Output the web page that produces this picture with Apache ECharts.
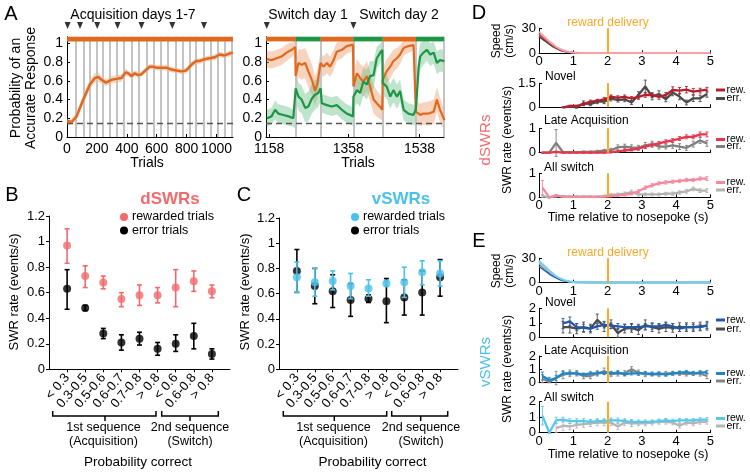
<!DOCTYPE html>
<html>
<head>
<meta charset="utf-8">
<script src="https://cdn.jsdelivr.net/npm/echarts@6.0.0/dist/echarts.min.js"></script>
<style>
html,body{margin:0;padding:0;background:#fff}
#chart{width:750px;height:473px}
</style>
</head>
<body>
<div id="chart"></div>
<script>
var FONT = "'Liberation Sans', Arial, sans-serif";

// ---- panel A, acquisition
var acqTrials = [0,9,31,64,109,153,187,209,231,260,298,331,364,393,409,431,453,476,498,531,553,576,598,631,664,698,731,764,798,831,864,887,920,953,987,1020,1053,1087,1110];
var acqMean   = [0.17,0.16,0.16,0.22,0.40,0.56,0.63,0.64,0.61,0.58,0.61,0.62,0.63,0.69,0.68,0.65,0.68,0.66,0.67,0.72,0.75,0.75,0.74,0.74,0.74,0.72,0.71,0.70,0.71,0.77,0.81,0.81,0.83,0.84,0.85,0.88,0.87,0.89,0.90];
var acqSem    = [0.03,0.03,0.03,0.04,0.05,0.05,0.05,0.05,0.04,0.04,0.04,0.04,0.04,0.04,0.03,0.03,0.03,0.03,0.03,0.03,0.03,0.03,0.03,0.03,0.03,0.03,0.03,0.03,0.03,0.03,0.03,0.03,0.03,0.03,0.03,0.03,0.03,0.03,0.03];
var acqSessions = [60,109,149,198,242,287,331,382,431,482,531,580,624,676,724,771,818,864,913,958,1009,1053,1102];
var acqDayStarts = [4,87,202,338,498,704,916];
var acqTicks = [0,200,400,600,800,1000];

// ---- panel A, switch days
var swTrialsO = [1152,1164,1177,1190,1202,1215,1224,1225,1232,1240,1249,1257,1266,1274,1280,1288,1295,1304,1312,1320,1329,1342,1354,1370,1371,1380,1388,1396,1405,1413,1422,1430,1439,1444,1445,1455,1464,1472,1481,1489,1498,1510,1523,1528,1529,1540,1548,1561,1574,1582,1590,1601];
var swOrange  = [0.83,0.82,0.84,0.86,0.90,0.93,0.96,0.65,0.79,0.77,0.79,0.70,0.61,0.49,0.57,0.79,0.75,0.79,0.75,0.81,0.91,0.93,0.97,0.985,0.54,0.68,0.63,0.59,0.65,0.54,0.40,0.36,0.32,0.29,0.61,0.70,0.75,0.81,0.84,0.88,0.95,0.97,0.98,0.985,0.27,0.235,0.25,0.25,0.27,0.40,0.29,0.18];
var swOrangeSem = [0.09,0.09,0.09,0.09,0.09,0.08,0.07,0.15,0.15,0.16,0.16,0.17,0.17,0.16,0.15,0.12,0.11,0.11,0.11,0.11,0.10,0.09,0.08,0.07,0.14,0.15,0.15,0.16,0.16,0.16,0.15,0.14,0.13,0.12,0.13,0.13,0.13,0.12,0.11,0.10,0.08,0.07,0.06,0.05,0.12,0.12,0.12,0.13,0.13,0.13,0.13,0.12];
var swTrialsG = [1152,1164,1173,1181,1194,1207,1219,1224,1225,1232,1240,1249,1257,1266,1274,1282,1288,1291,1304,1316,1329,1342,1354,1370,1371,1380,1388,1396,1405,1413,1422,1430,1439,1444,1445,1455,1464,1472,1481,1489,1498,1510,1523,1528,1529,1536,1540,1548,1557,1565,1574,1582,1590,1601];
var swGreen   = [0.20,0.22,0.29,0.25,0.235,0.22,0.20,0.18,0.52,0.43,0.40,0.31,0.325,0.41,0.45,0.47,0.52,0.36,0.34,0.325,0.34,0.29,0.25,0.22,0.43,0.50,0.47,0.59,0.56,0.65,0.66,0.84,0.90,0.93,0.575,0.54,0.43,0.50,0.43,0.49,0.29,0.25,0.235,0.24,0.30,0.75,0.86,0.90,0.93,0.88,0.90,0.79,0.82,0.81];
var swGreenSem = [0.09,0.09,0.10,0.10,0.10,0.10,0.09,0.09,0.14,0.15,0.15,0.15,0.16,0.16,0.16,0.15,0.14,0.10,0.10,0.10,0.10,0.10,0.10,0.10,0.13,0.14,0.15,0.15,0.16,0.16,0.15,0.12,0.10,0.09,0.13,0.13,0.13,0.13,0.13,0.12,0.11,0.11,0.11,0.11,0.14,0.15,0.14,0.13,0.12,0.12,0.12,0.12,0.12,0.12];
var swSessions = [1225,1288,1371,1445,1529,1600];
var swDayStarts = [1152,1371];
var swPhaseStart = [1150,1225,1288,1371,1445,1529];
var swPhaseEnd   = [1225,1288,1371,1445,1529,1600];
var swPhaseRule  = ['o','g','o','g','o','g'];
var swTicks = [1158,1358,1538];
var chanceLevel = 0.15;

// ---- panels B and C
var bins = ['< 0.3','0.3-0.5','0.5-0.6','0.6-0.7','0.7-0.8','> 0.8','< 0.6','0.6-0.8','> 0.8'];
var dRew    = [0.97,0.73,0.68,0.55,0.58,0.58,0.64,0.69,0.61];
var dRewLo  = [0.83,0.64,0.63,0.49,0.50,0.52,0.49,0.61,0.56];
var dRewHi  = [1.10,0.81,0.73,0.60,0.66,0.64,0.78,0.77,0.66];
var dErr    = [0.63,0.48,0.28,0.21,0.24,0.16,0.20,0.26,0.12];
var dErrLo  = [0.47,0.46,0.24,0.15,0.19,0.11,0.14,0.16,0.08];
var dErrHi  = [0.78,0.50,0.32,0.27,0.29,0.21,0.27,0.36,0.16];
var vRew    = [0.73,0.69,0.70,0.66,0.64,0.68,0.69,0.77,0.76];
var vRewLo  = [0.61,0.58,0.63,0.56,0.58,0.66,0.57,0.67,0.66];
var vRewHi  = [0.85,0.80,0.78,0.76,0.71,0.70,0.81,0.86,0.86];
var vErr    = [0.78,0.66,0.62,0.55,0.56,0.54,0.57,0.61,0.73];
var vErrLo  = [0.61,0.52,0.49,0.42,0.53,0.37,0.43,0.43,0.58];
var vErrHi  = [0.95,0.80,0.75,0.68,0.59,0.72,0.71,0.78,0.87];

// ---- panels D and E
var tBins = [0.1,0.3,0.5,0.7,0.9,1.1,1.3,1.5,1.7,1.9,2.1,2.3,2.5,2.7,2.9,3.1,3.3,3.5,3.7,3.9,4.1,4.3,4.5,4.7,4.9];
var dNovRew  = [null,null,null,0,0.08,0.08,0.2,0.35,0.4,0.5,0.65,0.6,0.65,0.55,0.65,0.77,0.77,0.65,0.77,1.08,1.04,1.1,0.98,1.04,1.1];
var dNovRewE = [null,null,null,0.02,0.05,0.05,0.08,0.1,0.1,0.12,0.12,0.12,0.12,0.12,0.15,0.15,0.15,0.15,0.15,0.2,0.2,0.2,0.2,0.15,0.15];
var dNovErr  = [null,null,null,0,0.04,0,0.25,0.2,0.35,0.35,0.55,0.45,0.5,0.3,0.77,1.3,0.67,0.83,0.5,0.92,0.67,0.3,0.56,0.56,0.83];
var dNovErrE = [null,null,null,0.02,0.05,0.05,0.15,0.1,0.12,0.12,0.15,0.12,0.15,0.12,0.2,0.4,0.2,0.2,0.15,0.2,0.2,0.15,0.2,0.2,0.2];
var dLateRew  = [0,0,0.03,0,0,0,0,0,0,0,0.02,0.05,0.1,0.12,0.17,0.25,0.32,0.38,0.45,0.5,0.58,0.65,0.65,0.75,0.75];
var dLateRewE = [0.02,0.02,0.03,0.02,0.02,0.02,0.02,0.02,0.02,0.02,0.03,0.04,0.05,0.05,0.06,0.07,0.08,0.08,0.08,0.08,0.08,0.08,0.08,0.1,0.1];
var dLateErr  = [0,0,0.4,0.02,0.02,0.02,0.03,0.03,0.05,0.08,0.1,0.22,0.25,0.22,0.2,0.3,0.35,0.25,0.25,0.3,0.25,0.2,0.35,0.5,0.38];
var dLateErrE = [0.02,0.02,0.55,0.03,0.03,0.03,0.04,0.04,0.05,0.06,0.08,0.1,0.1,0.1,0.1,0.12,0.12,0.1,0.1,0.12,0.12,0.1,0.12,0.12,0.12];
var dAllRew  = [0.4,0,0.08,0.02,0.02,0.02,0.02,0.02,0.02,0.03,0.05,0.08,0.1,0.15,0.25,0.4,0.5,0.58,0.62,0.65,0.68,0.72,0.72,0.78,0.78];
var dAllRewE = [0.3,0.02,0.04,0.02,0.02,0.02,0.02,0.02,0.02,0.02,0.03,0.03,0.04,0.05,0.06,0.07,0.07,0.07,0.07,0.07,0.07,0.07,0.07,0.07,0.08];
var dAllErr  = [0.05,0,0.05,0.05,0.03,0.03,0.03,0.03,0.03,0.05,0.1,0.12,0.15,0.22,0.12,0.12,0.12,0.12,0.15,0.15,0.2,0.25,0.35,0.28,0.28];
var dAllErrE = [0.05,0.02,0.04,0.03,0.03,0.03,0.03,0.03,0.03,0.04,0.05,0.06,0.07,0.08,0.06,0.06,0.06,0.06,0.06,0.07,0.07,0.08,0.08,0.08,0.08];
var eNovRew  = [null,null,null,0.95,1.1,0.7,0.65,0.6,0.75,0.85,0.8,0.75,0.7,0.7,0.7,0.75,0.75,0.75,0.85,0.75,0.6,0.7,0.7,0.7,0.8];
var eNovRewE = [null,null,null,0.35,0.3,0.25,0.25,0.2,0.2,0.2,0.2,0.2,0.2,0.2,0.2,0.2,0.2,0.2,0.2,0.2,0.2,0.2,0.2,0.2,0.2];
var eNovErr  = [null,null,null,0.7,0.7,0.6,0.7,0.6,1.2,0.75,0.9,0.3,0.6,0.65,0.5,0.85,0.7,0.6,0.7,0.65,0.7,0.7,0.7,0.75,0.8];
var eNovErrE = [null,null,null,0.4,0.4,0.35,0.35,0.3,0.4,0.35,0.3,0.3,0.3,0.3,0.3,0.35,0.3,0.3,0.3,0.3,0.3,0.3,0.3,0.3,0.3];
var eLateRew  = [0.5,0.2,0.35,0.7,0.7,0.7,0.6,0.7,0.7,0.75,0.7,0.75,0.65,0.7,0.7,0.7,0.65,0.7,0.6,0.7,0.75,0.8,0.7,0.75,0.8];
var eLateRewE = [0.3,0.2,0.2,0.15,0.12,0.12,0.12,0.12,0.12,0.12,0.12,0.12,0.12,0.12,0.12,0.12,0.12,0.12,0.12,0.12,0.12,0.12,0.12,0.12,0.12];
var eLateErr  = [0.3,0.05,0.35,0.6,0.7,0.7,0.5,0.5,0.7,0.85,0.65,0.7,0.7,1.0,0.75,0.65,0.65,0.6,0.7,0.7,0.7,0.65,0.7,0.7,0.5];
var eLateErrE = [0.3,0.05,0.5,0.3,0.25,0.2,0.2,0.2,0.2,0.25,0.2,0.2,0.2,0.2,0.2,0.2,0.15,0.15,0.15,0.15,0.15,0.15,0.15,0.2,0.2];
var eAllRew  = [1.1,0,0.8,0.85,0.75,0.75,0.75,0.7,0.75,0.75,0.8,0.8,0.75,0.7,0.7,0.7,0.7,0.75,0.8,0.75,0.8,0.8,0.8,0.85,0.85];
var eAllRewE = [0.6,0.05,0.2,0.15,0.15,0.15,0.15,0.15,0.15,0.15,0.15,0.15,0.15,0.15,0.12,0.12,0.12,0.12,0.12,0.12,0.12,0.12,0.12,0.12,0.12];
var eAllErr  = [null,null,0.3,0.45,0.4,0.5,0.55,0.6,0.65,0.65,0.65,0.4,0.65,0.6,0.6,0.6,0.65,0.7,0.7,0.65,0.45,0.65,0.6,0.7,0.7];
var eAllErrE = [null,null,0.3,0.3,0.2,0.2,0.2,0.2,0.2,0.2,0.2,0.2,0.2,0.2,0.15,0.15,0.15,0.15,0.15,0.15,0.15,0.15,0.15,0.15,0.15];

var speedT = [0,0.2,0.4,0.6,0.8,1,1.2,1.5,2,3,4,5];
var dSpeedPink = [26,18,11,5.5,2.5,1,0.5,0.3,0.3,0.3,0.3,0.4];
var dSpeedRed  = [23,16,9.5,4.5,2,0.8,0.4,0.3,0.3,0.3,0.3,0.3];
var dSpeedGray = [21,15,9,4.5,2,0.8,0.4,0.3,0.3,0.3,0.3,0.4];
var dSpeedDark = [20,14,8,4,1.8,0.7,0.3,0.2,0.2,0.2,0.2,0.2];
var eSpeedCyan = [27,19,11.5,5.5,2.5,1,0.5,0.3,0.3,0.3,0.3,0.5];
var eSpeedLight= [25,17,10,5,2.2,0.9,0.4,0.3,0.3,0.3,0.3,0.4];
var eSpeedGray = [23,16,9.5,4.5,2,0.8,0.4,0.3,0.3,0.3,0.3,0.3];
var eSpeedBlue = [20,14,8,4,1.8,0.7,0.3,0.2,0.2,0.2,0.2,0.2];
var rewardTime = 2;

var ORANGE = '#E0691F', ORANGE_BAND = 'rgba(240,160,110,0.45)';
var GREEN = '#1E9646', GREEN_BAND = 'rgba(110,195,140,0.45)';
var DRED = '#F16B6E', VCYAN = '#4CC1E9', REWARD = '#F9A928';

var chart = echarts.init(document.getElementById('chart'));

var grids = [
  {left: 67, top: 36.7, width: 166, height: 100.3},   // 0 A acquisition
  {left: 266, top: 36.7, width: 178, height: 100.3},  // 1 A switch
  {left: 49, top: 216, width: 181, height: 153.3},    // 2 B
  {left: 279, top: 218, width: 179, height: 151.3},   // 3 C
  {left: 539, top: 28.3, width: 171.4, height: 25},   // 4 D speed
  {left: 539, top: 83.3, width: 171.4, height: 24},   // 5 D novel
  {left: 539, top: 128.3, width: 171.4, height: 24.4},// 6 D late
  {left: 539, top: 173.3, width: 171.4, height: 24},  // 7 D all
  {left: 539, top: 258.3, width: 171.4, height: 24.4},// 8 E speed
  {left: 539, top: 308.3, width: 171.4, height: 29},  // 9 E novel
  {left: 539, top: 356, width: 171.4, height: 26.7},  // 10 E late
  {left: 539, top: 401.7, width: 171.4, height: 31}   // 11 E all
];
grids.forEach(function (g) { g.containLabel = false; g.outerBoundsMode = 'none'; });

function axis(gi, min, max, vals, fs, showLabel, inside) {
  return {
    type: 'value', gridIndex: gi, min: min, max: max,
    axisLine: {show: true, onZero: false, lineStyle: {color: '#000', width: 1}},
    axisTick: {show: true, inside: inside, length: 3, customValues: vals, lineStyle: {color: '#000'}},
    axisLabel: {show: showLabel, customValues: vals, fontSize: fs, color: '#000', fontFamily: FONT, margin: 4,
      showMinLabel: true, showMaxLabel: true, hideOverlap: false,
      formatter: function (v) { return String(v); }},
    splitLine: {show: false}
  };
}

var xAxes = [], yAxes = [];
var yA = [0,0.2,0.4,0.6,0.8,1];
xAxes.push(axis(0, 0, 1110, acqTicks, 14, true, true));
yAxes.push(axis(0, 0, 1.07, yA, 14, true, true));
xAxes.push(axis(1, 1150, 1600, swTicks, 14, true, true));
yAxes.push(axis(1, 0, 1.07, yA, 14, true, true));
xAxes[0].axisLabel.margin = 5; xAxes[1].axisLabel.margin = 5;

var binPos = [1,2,3,4,5,6,7,8,9];
var yBC = [0,0.2,0.4,0.6,0.8,1,1.2];
[2, 3].forEach(function (gi) {
  var xa = axis(gi, 0, 10, binPos, 13, true, false);
  xa.axisLabel.rotate = 50;
  xa.axisLabel.margin = 6;
  xa.axisLabel.formatter = function (v) { return bins[Math.round(v) - 1]; };
  xAxes.push(xa);
  yAxes.push(axis(gi, 0, 1.2, yBC, 13, true, false));
});

var tTicks = [0,1,2,3,4,5];
var panelY = [
  [4, 30, [0,30]], [5, 1.5, [0,1.5]], [6, 1, [0,1]], [7, 1, [0,1]],
  [8, 30, [0,30]], [9, 2, [0,1,2]], [10, 2, [0,1,2]], [11, 2, [0,1,2]]
];
panelY.forEach(function (p) {
  var gi = p[0];
  var showX = (gi === 4 || gi === 7 || gi === 8 || gi === 11);
  var xa = axis(gi, 0, 5, tTicks, 13, showX, true);
  xa.axisLabel.margin = 2;
  xAxes.push(xa);
  var ya = axis(gi, 0, p[1], p[2], 13, true, true);
  ya.axisLabel.margin = 3;
  yAxes.push(ya);
});

var series = [];

function band(gi, xs, ys, hw, color) {
  return {
    type: 'custom', xAxisIndex: gi, yAxisIndex: gi, silent: true, z: 2,
    data: [[xs[0], ys[0]]],
    renderItem: function (params, api) {
      var pts = [], i;
      for (i = 0; i < xs.length; i++) pts.push(api.coord([xs[i], ys[i] + hw[i]]));
      for (i = xs.length - 1; i >= 0; i--) pts.push(api.coord([xs[i], ys[i] - hw[i]]));
      return {type: 'polygon', shape: {points: pts}, style: {fill: color}};
    }
  };
}

function pairs(xs, ys) {
  var out = [];
  for (var i = 0; i < xs.length; i++) if (ys[i] != null) out.push([xs[i], ys[i]]);
  return out;
}

function errBars(gi, xs, lo, hi, color, cap, w, z) {
  var rows = [];
  for (var i = 0; i < xs.length; i++) if (lo[i] != null) rows.push([xs[i], lo[i], hi[i]]);
  return {
    type: 'custom', xAxisIndex: gi, yAxisIndex: gi, silent: true, z: z || 3,
    data: rows, encode: {x: 0, y: [1, 2]},
    renderItem: function (params, api) {
      var x = api.value(0);
      var a = api.coord([x, api.value(1)]), b = api.coord([x, api.value(2)]);
      var st = {stroke: color, lineWidth: w};
      return {type: 'group', children: [
        {type: 'line', shape: {x1: a[0], y1: a[1], x2: b[0], y2: b[1]}, style: st},
        {type: 'line', shape: {x1: a[0] - cap, y1: a[1], x2: a[0] + cap, y2: a[1]}, style: st},
        {type: 'line', shape: {x1: b[0] - cap, y1: b[1], x2: b[0] + cap, y2: b[1]}, style: st}
      ]};
    }
  };
}

function phaseBar(gi, starts, ends, rules) {
  var rows = starts.map(function (s, i) { return [s, ends[i], rules[i] === 'o' ? 0 : 1]; });
  return {
    type: 'custom', xAxisIndex: gi, yAxisIndex: gi, silent: true, z: 5,
    data: rows, encode: {x: [0, 1]},
    renderItem: function (params, api) {
      var a = api.coord([api.value(0), 1.07]), b = api.coord([api.value(1), 1.02]);
      return {type: 'rect', shape: {x: a[0], y: a[1], width: b[0] - a[0], height: b[1] - a[1]},
        style: {fill: api.value(2) === 0 ? ORANGE : GREEN}};
    }
  };
}

function guideLines(gi, xs, dash) {
  var d = xs.map(function (x) { return {xAxis: x, lineStyle: {color: '#C4C4C4', width: 2, type: 'solid'}}; });
  d.push({yAxis: dash, lineStyle: {color: '#555', width: 1.3, type: [6, 4]}});
  return {
    type: 'line', xAxisIndex: gi, yAxisIndex: gi, data: [], z: 1, silent: true,
    markLine: {silent: true, z: 3, symbol: 'none', label: {show: false}, animation: false, data: d}
  };
}

function triangles(gi, xs) {
  return {
    type: 'scatter', xAxisIndex: gi, yAxisIndex: gi, clip: false, silent: true, z: 6,
    symbol: 'triangle', symbolRotate: 180, symbolSize: [6, 7],
    itemStyle: {color: '#000'},
    data: xs.map(function (x) { return [x, 1.19]; })
  };
}

function curve(gi, xs, ys, color, w, smooth) {
  return {
    type: 'line', xAxisIndex: gi, yAxisIndex: gi, data: pairs(xs, ys), showSymbol: false,
    smooth: smooth || false, silent: true, z: 4, clip: false,
    lineStyle: {color: color, width: w}, itemStyle: {color: color}
  };
}

// A
series.push(guideLines(0, acqSessions, chanceLevel));
series.push(band(0, acqTrials, acqMean, acqSem, ORANGE_BAND));
series.push(curve(0, acqTrials, acqMean, ORANGE, 2.5));
series.push(phaseBar(0, [0], [1110], ['o']));
series.push(triangles(0, acqDayStarts));

series.push(guideLines(1, swSessions, chanceLevel));
series.push(band(1, swTrialsO, swOrange, swOrangeSem, ORANGE_BAND));
series.push(band(1, swTrialsG, swGreen, swGreenSem, GREEN_BAND));
series.push(curve(1, swTrialsO, swOrange, ORANGE, 2.2));
series.push(curve(1, swTrialsG, swGreen, GREEN, 2.2));
series.push(phaseBar(1, swPhaseStart, swPhaseEnd, swPhaseRule));
series.push(triangles(1, swDayStarts));

// B and C
function dots(gi, ys, color, z) {
  return {
    type: 'scatter', xAxisIndex: gi, yAxisIndex: gi, symbolSize: 8, z: z, silent: true,
    itemStyle: {color: color}, data: pairs(binPos, ys)
  };
}
series.push(errBars(2, binPos, dErrLo, dErrHi, '#000', 2.5, 1.6, 3));
series.push(dots(2, dErr, '#000', 4));
series.push(errBars(2, binPos, dRewLo, dRewHi, DRED, 2.5, 1.6, 5));
series.push(dots(2, dRew, DRED, 6));
series.push(errBars(3, binPos, vErrLo, vErrHi, '#000', 2.5, 1.6, 3));
series.push(dots(3, vErr, '#000', 4));
series.push(errBars(3, binPos, vRewLo, vRewHi, VCYAN, 2.5, 1.6, 5));
series.push(dots(3, vRew, VCYAN, 6));

// D and E
function rewardLine(gi) {
  return {
    type: 'line', xAxisIndex: gi, yAxisIndex: gi, data: [], z: 7, silent: true,
    markLine: {silent: true, z: 7, symbol: 'none', label: {show: false}, animation: false,
      data: [{xAxis: rewardTime}], lineStyle: {color: REWARD, width: 2, type: 'solid'}}
  };
}
function ratePanel(gi, rew, rewE, err, errE, rewColor, errColor) {
  var lo1 = rew.map(function (v, i) { return v == null ? null : v - rewE[i]; });
  var hi1 = rew.map(function (v, i) { return v == null ? null : v + rewE[i]; });
  var lo2 = err.map(function (v, i) { return v == null ? null : v - errE[i]; });
  var hi2 = err.map(function (v, i) { return v == null ? null : v + errE[i]; });
  series.push(errBars(gi, tBins, lo2, hi2, errColor, 1.5, 0.9, 3));
  series.push(errBars(gi, tBins, lo1, hi1, rewColor, 1.5, 0.9, 3));
  series.push(curve(gi, tBins, err, errColor, 2.3));
  series.push(curve(gi, tBins, rew, rewColor, 2.3));
  series.push(rewardLine(gi));
}

series.push(curve(4, speedT, dSpeedGray, '#9A9A9A', 1.5, true));
series.push(curve(4, speedT, dSpeedDark, '#444', 1.5, true));
series.push(curve(4, speedT, dSpeedRed, '#C83A44', 1.5, true));
series.push(curve(4, speedT, dSpeedPink, '#F4A3AA', 2, true));
series.push(rewardLine(4));
ratePanel(5, dNovRew, dNovRewE, dNovErr, dNovErrE, '#B3202D', '#4A4A4A');
ratePanel(6, dLateRew, dLateRewE, dLateErr, dLateErrE, '#E5364C', '#7E7E7E');
ratePanel(7, dAllRew, dAllRewE, dAllErr, dAllErrE, '#F5889C', '#B2B2B2');

series.push(curve(8, speedT, eSpeedGray, '#8A8A8A', 1.5, true));
series.push(curve(8, speedT, eSpeedLight, '#BBBBBB', 1.5, true));
series.push(curve(8, speedT, eSpeedBlue, '#2A5CAA', 1.5, true));
series.push(curve(8, speedT, eSpeedCyan, '#74D2EF', 2, true));
series.push(rewardLine(8));
ratePanel(9, eNovRew, eNovRewE, eNovErr, eNovErrE, '#2557A7', '#4A4A4A');
ratePanel(10, eLateRew, eLateRewE, eLateErr, eLateErrE, '#1C86C6', '#858585');
ratePanel(11, eAllRew, eAllRewE, eAllErr, eAllErrE, '#56C8EC', '#B5B5B5');

// text and annotation
var g = [];
function txt(x, y, s, fs, opt) {
  opt = opt || {};
  g.push({
    type: 'text', x: x, y: y, rotation: opt.rot || 0, silent: true, z: 10,
    style: {text: s, fontSize: fs, fontFamily: FONT, fontWeight: opt.bold ? 'bold' : 'normal',
      fill: opt.color || '#000', align: opt.align || 'center', verticalAlign: 'middle'}
  });
}
function seg(pts, color, w) {
  g.push({type: 'polyline', silent: true, z: 10, shape: {points: pts},
    style: {stroke: color || '#000', lineWidth: w || 1.5, fill: null}});
}
var V = Math.PI / 2;

txt(11, 14, 'A', 20);
txt(133, 15, 'Acquisition days 1-7', 14);
txt(308, 15, 'Switch day 1', 14);
txt(399, 15, 'Switch day 2', 14);
txt(16, 88, 'Probability of an', 14, {rot: V});
txt(31, 88, 'Accurate Response', 14, {rot: V});
txt(147, 163, 'Trials', 14);
txt(358, 163, 'Trials', 14);

txt(12, 195, 'B', 20);
txt(244, 195, 'C', 20);
txt(14, 292, 'SWR rate (events/s)', 13, {rot: V});
txt(245, 292, 'SWR rate (events/s)', 13, {rot: V});
txt(170, 199, 'dSWRs', 17, {bold: true, color: DRED});
txt(401, 199, 'vSWRs', 17, {bold: true, color: VCYAN});
g.push({type: 'circle', silent: true, shape: {cx: 124, cy: 217, r: 4}, style: {fill: DRED}});
g.push({type: 'circle', silent: true, shape: {cx: 124, cy: 230.5, r: 4}, style: {fill: '#000'}});
txt(132, 217, 'rewarded trials', 12.5, {align: 'left'});
txt(132, 230.5, 'error trials', 12.5, {align: 'left'});
g.push({type: 'circle', silent: true, shape: {cx: 355, cy: 217, r: 4}, style: {fill: VCYAN}});
g.push({type: 'circle', silent: true, shape: {cx: 355, cy: 230.5, r: 4}, style: {fill: '#000'}});
txt(363, 217, 'rewarded trials', 12.5, {align: 'left'});
txt(363, 230.5, 'error trials', 12.5, {align: 'left'});

function bracket(x1, x2, xm) {
  seg([[x1, 411], [x1, 416], [x2, 416], [x2, 411]], '#000', 1.5);
  seg([[xm, 416], [xm, 421]], '#000', 1.5);
}
bracket(52.7, 156, 105); bracket(161.7, 218.3, 190);
bracket(283.3, 386.7, 334.3); bracket(391.7, 447.7, 420.7);
txt(103.5, 428, '1st sequence', 12.5); txt(103.5, 442, '(Acquisition)', 12.5);
txt(190, 428, '2nd sequence', 12.5); txt(190, 442, '(Switch)', 12.5);
txt(333.5, 428, '1st sequence', 12.5); txt(333.5, 442, '(Acquisition)', 12.5);
txt(421, 428, '2nd sequence', 12.5); txt(421, 442, '(Switch)', 12.5);
txt(138, 462, 'Probability correct', 13.5);
txt(372.5, 462, 'Probability correct', 13.5);

txt(479, 13, 'D', 20);
txt(479, 241, 'E', 20);
txt(608, 23, 'reward delivery', 12, {color: REWARD});
txt(608, 253, 'reward delivery', 12, {color: REWARD});
txt(497, 41, 'Speed', 12, {rot: V});
txt(510, 41, '(cm/s)', 12, {rot: V});
txt(497, 271, 'Speed', 12, {rot: V});
txt(510, 271, '(cm/s)', 12, {rot: V});
txt(486, 140, 'dSWRs', 15, {rot: V, color: DRED});
txt(486, 362, 'vSWRs', 15, {rot: V, color: VCYAN});
txt(508, 140, 'SWR rate (events/s)', 12, {rot: V});
txt(508, 369, 'SWR rate (events/s)', 12, {rot: V});
txt(545, 77, 'Novel', 12, {align: 'left'});
txt(544, 121, 'Late Acquisition', 12, {align: 'left'});
txt(544, 168, 'All switch', 12, {align: 'left'});
txt(545, 303, 'Novel', 12, {align: 'left'});
txt(544, 351, 'Late Acquisition', 12, {align: 'left'});
txt(544, 398, 'All switch', 12, {align: 'left'});
txt(628, 218, 'Time relative to nosepoke (s)', 12.5);
txt(628, 455, 'Time relative to nosepoke (s)', 12.5);

function legendPair(y1, y2, c1, c2) {
  seg([[716, y1], [725, y1]], c1, 3);
  seg([[716, y2], [725, y2]], c2, 3);
  txt(726.5, y1, 'rew.', 10.5, {align: 'left'});
  txt(726.5, y2, 'err.', 10.5, {align: 'left'});
}
legendPair(90, 98.5, '#B3202D', '#4A4A4A');
legendPair(139.5, 146.5, '#E5364C', '#7E7E7E');
legendPair(182.5, 190, '#F5889C', '#B2B2B2');
legendPair(320, 329, '#2557A7', '#4A4A4A');
legendPair(373.5, 381, '#1C86C6', '#858585');
legendPair(418.5, 426, '#56C8EC', '#B5B5B5');

chart.setOption({
  animation: false,
  backgroundColor: '#fff',
  textStyle: {fontFamily: FONT},
  grid: grids,
  xAxis: xAxes,
  yAxis: yAxes,
  series: series,
  graphic: g
});
</script>
</body>
</html>
